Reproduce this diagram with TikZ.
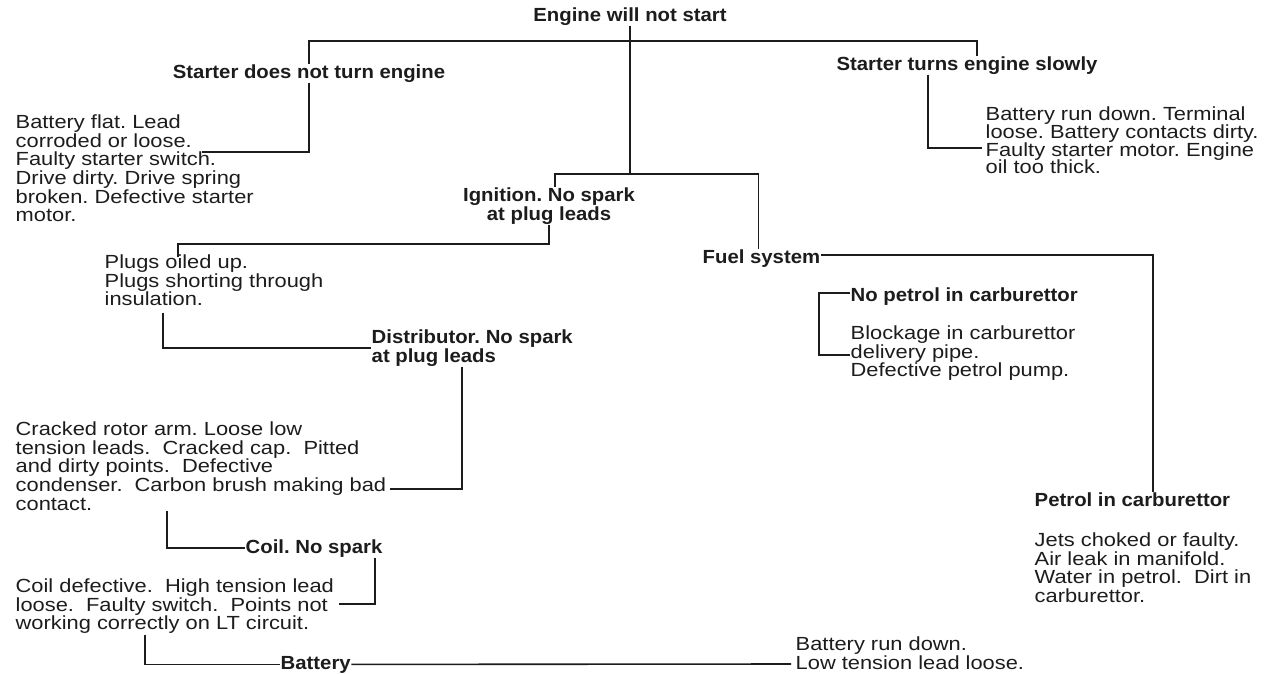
\documentclass[tikz,border=0pt]{standalone}
\usepackage{fontspec}
\setmainfont{Liberation Sans}[FakeStretch=1.15,BoldFeatures={FakeStretch=1.07}]
\usetikzlibrary{positioning}
\definecolor{inkgray}{RGB}{28,28,28}
\frenchspacing

\begin{document}
\begin{tikzpicture}[
    x=1pt, y=-1pt,
    txt/.style={inner sep=0.5pt, text=inkgray, font=\fontsize{19}{18.7}\selectfont},
    headbox/.style={txt, font=\fontsize{19}{18.7}\selectfont\bfseries, align=center},
    causebox/.style={txt, align=left, anchor=north west},
    link/.style={draw=inkgray, line width=1.6pt}
]
    \useasboundingbox (0,0) rectangle (1271,673);

    \node[headbox, anchor=base] (engine) at (630,21) {Engine will not start};
    \node[headbox, anchor=base] (sdnte) at (309,78) {Starter does not turn engine};
    \node[headbox, anchor=base] (stes) at (967,70) {Starter turns engine slowly};
    \node[causebox] (sdcause) at (15,114) {Battery flat. Lead\\corroded or loose.\\Faulty starter switch.\\Drive dirty. Drive spring\\broken. Defective starter\\motor.};
    \node[causebox, font=\fontsize{19}{17.8}\selectfont] (stcause) at (985,106) {Battery run down. Terminal\\loose. Battery contacts dirty.\\Faulty starter motor. Engine\\oil too thick.};
    \node[headbox, anchor=north] (ign) at (549,187) {Ignition. No spark\\at plug leads};
    \node[headbox, anchor=base west] (fuel) at (702,263) {Fuel system};
    \node[causebox] (plugs) at (104,254) {Plugs oiled up.\\Plugs shorting through\\insulation.};
    \node[headbox, anchor=north west, align=left] (dist) at (371,329) {Distributor. No spark\\at plug leads};
    \node[headbox, anchor=base west] (npet) at (850,301) {No petrol in carburettor};
    \node[causebox, below=24pt of npet.base west, anchor=north west] (block) {Blockage in carburettor\\delivery pipe.\\Defective petrol pump.};
    \node[causebox] (crack) at (15,421) {Cracked rotor arm. Loose low\\tension leads.\ \ Cracked cap.\ \ Pitted\\and dirty points.\ \ Defective\\condenser.\ \ Carbon brush making bad\\contact.};
    \node[headbox, anchor=base west] (coil) at (245,553) {Coil. No spark};
    \node[causebox] (coilcause) at (15,578) {Coil defective.\ \ High tension lead\\loose.\ \ Faulty switch.\ \ Points not\\working correctly on LT circuit.};
    \node[headbox, anchor=base west] (petrol) at (1034,506) {Petrol in carburettor};
    \node[causebox, below=26pt of petrol.base west, anchor=north west] (jets) {Jets choked or faulty.\\Air leak in manifold.\\Water in petrol.\ \ Dirt in\\carburettor.};
    \node[headbox, anchor=base west] (battery) at (280,669) {Battery};
    \node[causebox] (batcause) at (795,636) {Battery run down.\\Low tension lead loose.};

    % bends and loose ends
    \coordinate (topbar) at (630,41);
    \coordinate (fork) at (630,174);
    \coordinate (sdend) at (202,152);
    \coordinate (stend) at (982,148);
    \coordinate (plugend) at (178,257);
    \coordinate (crackend) at (390,489);
    \coordinate (coilend) at (339,604);
    \coordinate (blockend) at (850,355);
    \coordinate (batend) at (791,664);

    \draw[link] (engine) -- (fork);
    \draw[link] (sdnte.north) |- (topbar) -| ([xshift=10pt]stes.north);
    \draw[link] ([xshift=6pt]ign.north) |- (fork) -| ([xshift=-3pt]fuel.north);
    \draw[link] (sdnte.south) |- (sdend);
    \draw[link] ([xshift=-39pt]stes.south) |- (stend);
    \draw[link] (ign.south) -- ++(0,19) -| (plugend);
    \draw[link] ([shift={(59pt,-6pt)}]plugs.south west) |- (dist.west);
    \draw[link] ([xshift=91pt]dist.south west) |- (crackend);
    \draw[link] ([xshift=152pt]crack.south west) |- (coil.west);
    \draw[link] ([xshift=-8pt]coil.south east) |- (coilend);
    \draw[link] ([xshift=130pt]coilcause.south west) |- (battery.west);
    \draw[link] (battery) -- (batend);
    \draw[link] ([yshift=3pt]fuel.east) -| ([xshift=119pt]petrol.north west);
    \draw[link] ([yshift=3pt]npet.west) -- ++(-31,0) |- (blockend);
\end{tikzpicture}
\end{document}
